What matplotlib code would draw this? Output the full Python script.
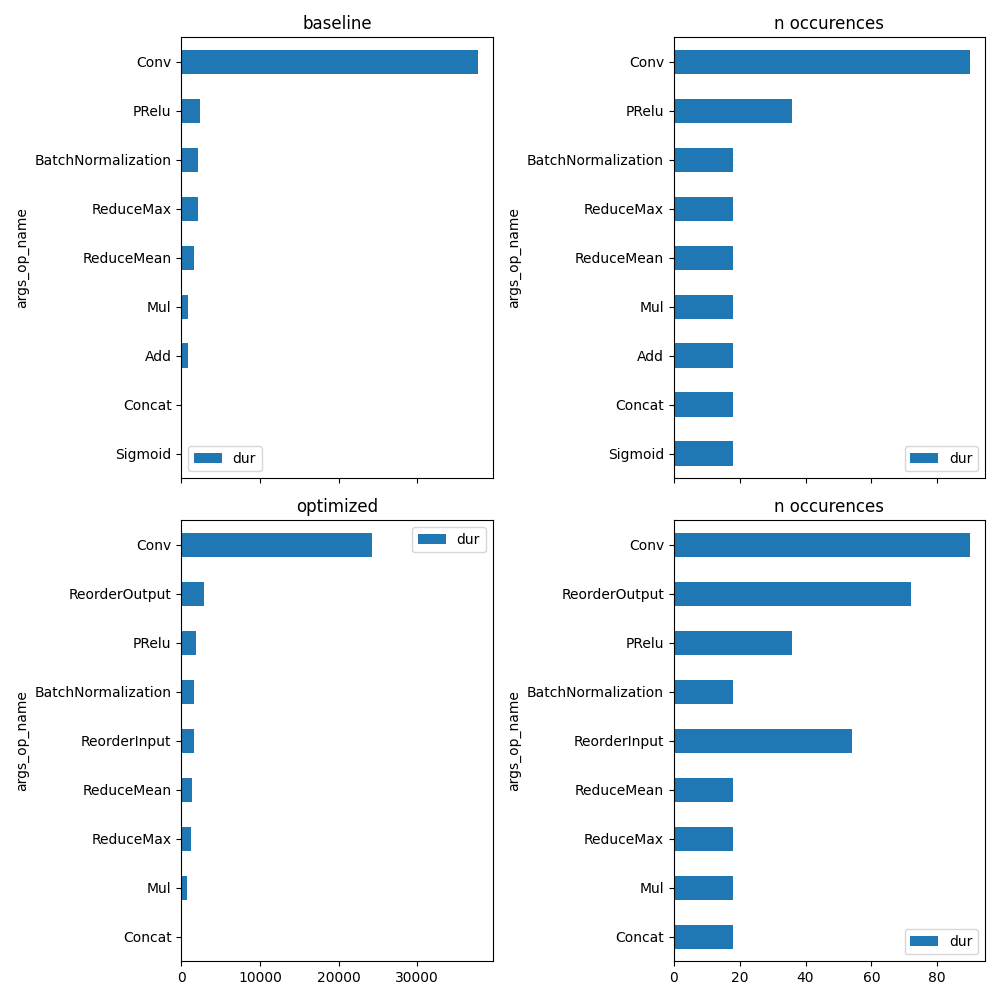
import matplotlib
matplotlib.use("Agg")
import matplotlib.pyplot as plt
import pandas as pd

# baseline (bottom to top order)
base_ops = ["Sigmoid", "Concat", "Add", "Mul", "ReduceMean", "ReduceMax",
            "BatchNormalization", "PRelu", "Conv"]
base_dur = [40, 60, 900, 900, 1600, 2100, 2100, 2350, 37700]
base_count = [18, 18, 18, 18, 18, 18, 18, 36, 90]

opt_ops = ["Concat", "Mul", "ReduceMax", "ReduceMean", "ReorderInput",
           "BatchNormalization", "PRelu", "ReorderOutput", "Conv"]
opt_dur = [60, 680, 1200, 1400, 1600, 1650, 1850, 2850, 24200]
opt_count = [18, 18, 18, 18, 54, 18, 36, 72, 90]

fig, axes = plt.subplots(2, 2, figsize=(10, 10), sharex="col")

def draw(ax, ops, vals, title, loc):
    df = pd.DataFrame({"dur": vals}, index=pd.Index(ops, name="args_op_name"))
    df.plot.barh(ax=ax, color="#1f77b4")
    ax.set_title(title)
    ax.legend(loc=loc)

draw(axes[0, 0], base_ops, base_dur, "baseline", "lower left")
draw(axes[0, 1], base_ops, base_count, "n occurences", "lower right")
draw(axes[1, 0], opt_ops, opt_dur, "optimized", "upper right")
draw(axes[1, 1], opt_ops, opt_count, "n occurences", "lower right")

fig.tight_layout()
fig.savefig("out.png", dpi=100)
